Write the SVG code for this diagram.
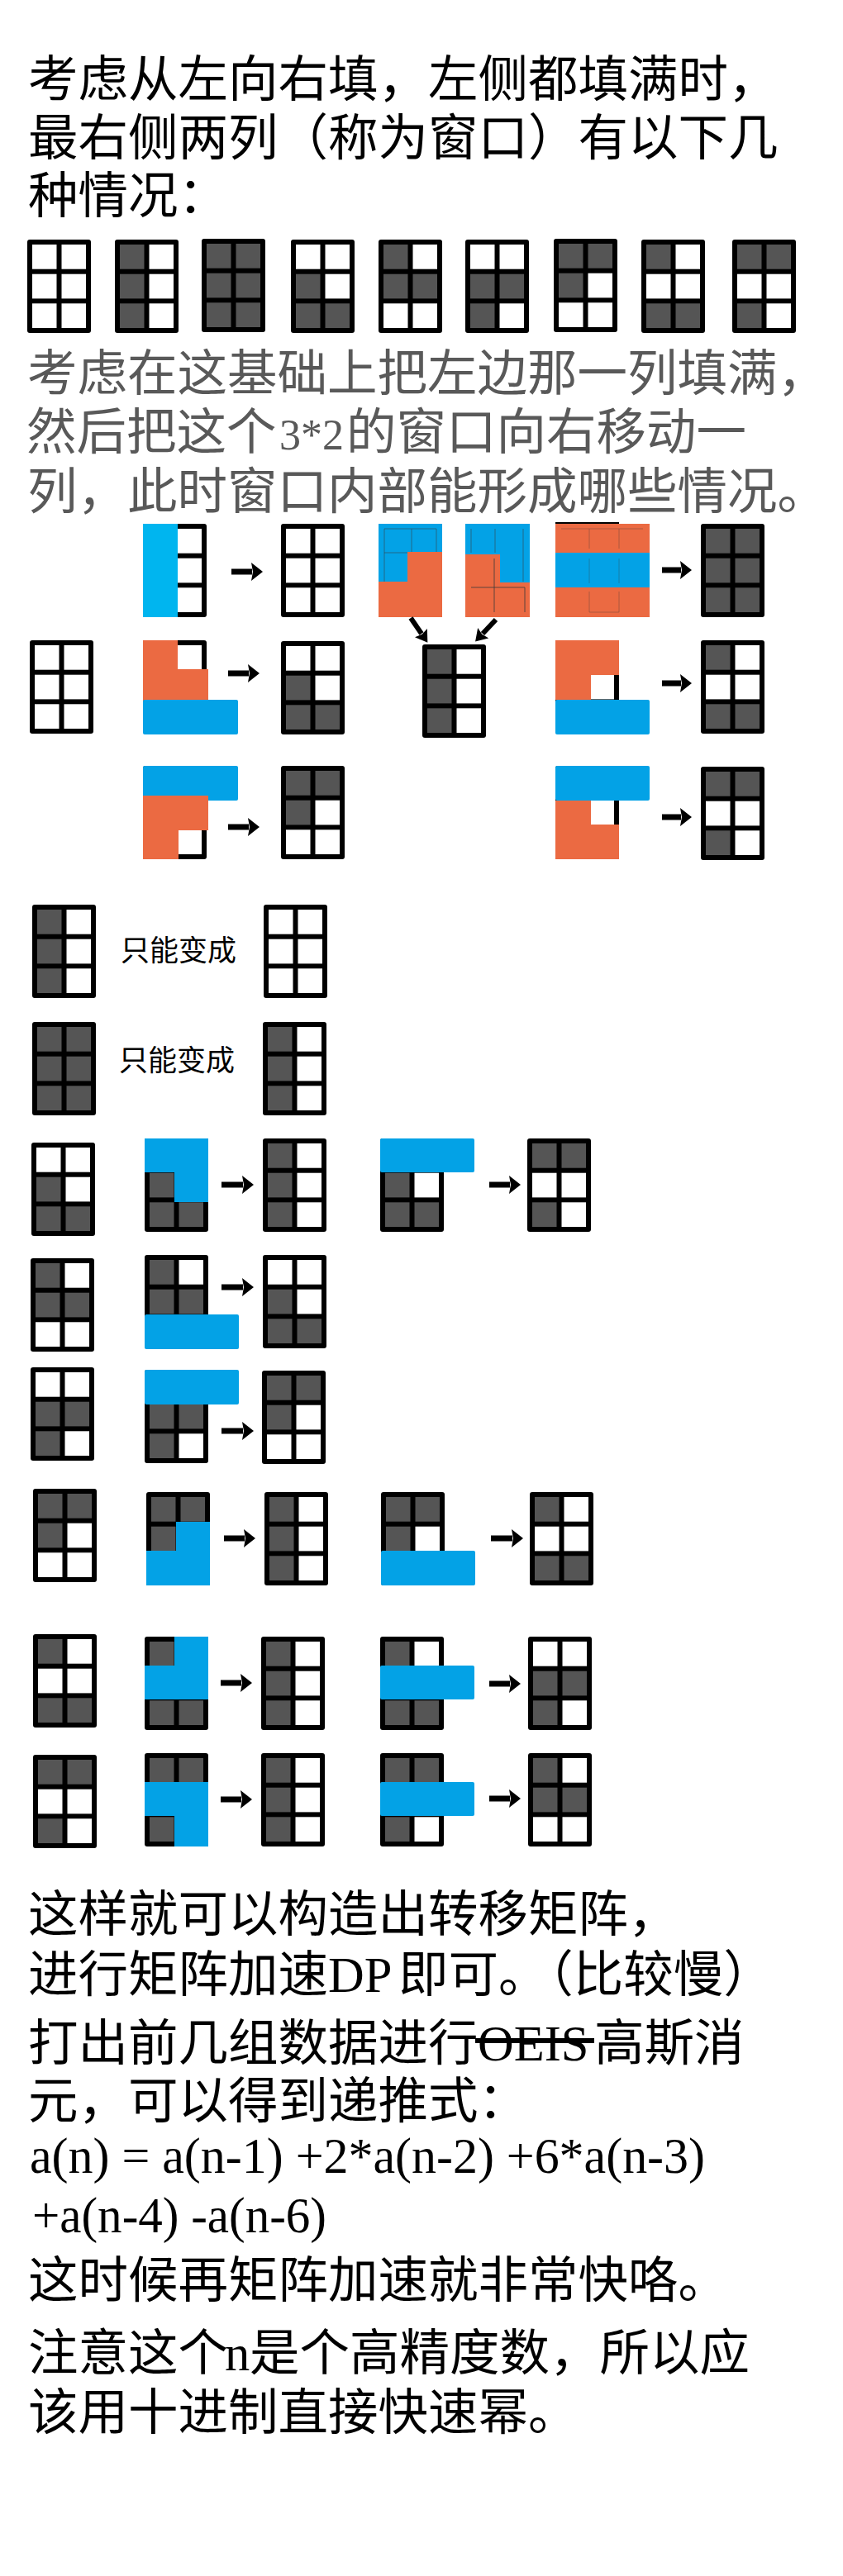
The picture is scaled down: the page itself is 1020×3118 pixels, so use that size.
<svg xmlns="http://www.w3.org/2000/svg" xmlns:xlink="http://www.w3.org/1999/xlink" width="1020" height="3118" viewBox="0 0 1020 3118">
<style>
.fr{fill:#000}
.d{fill:#555}
.w{fill:#fff}
.bl{fill:#03a2e6}
.cy{fill:#00b5ef}
.or{fill:#eb6a42}
.fl{stroke:#3a3a3a;stroke-width:1;fill:none;opacity:.55}
.t{font-family:"Liberation Serif","Noto Sans CJK SC",serif;font-size:60.5px;fill:#000}
.g{fill:#595959}
.s{font-family:"Liberation Serif","Noto Sans CJK SC",serif;font-size:35px;fill:#000}
.arr{stroke:#000;stroke-width:7;fill:none;marker-end:url(#ah)}
.arr2{stroke:#000;stroke-width:6;fill:none;marker-end:url(#ah2)}
</style>
<defs>
<marker id="ah" markerUnits="userSpaceOnUse" markerWidth="15" markerHeight="22" refX="1" refY="11" orient="auto"><path d="M0,0 L14,11 L0,22 L2,11 Z" fill="#000"/></marker>
<marker id="ah2" markerUnits="userSpaceOnUse" markerWidth="15" markerHeight="18" refX="1" refY="9" orient="auto"><path d="M0,0 L14,9 L0,18 L2,9 Z" fill="#000"/></marker>
<g id="s0"><rect class="fr" width="77" height="113" rx="3"/><rect class="w" x="6" y="6" width="29.5" height="29.7"/><rect class="w" x="41.5" y="6" width="29.5" height="29.7"/><rect class="w" x="6" y="41.7" width="29.5" height="29.7"/><rect class="w" x="41.5" y="41.7" width="29.5" height="29.7"/><rect class="w" x="6" y="77.3" width="29.5" height="29.7"/><rect class="w" x="41.5" y="77.3" width="29.5" height="29.7"/></g>
<g id="s1"><rect class="fr" width="77" height="113" rx="3"/><rect class="d" x="6" y="6" width="29.5" height="29.7"/><rect class="w" x="41.5" y="6" width="29.5" height="29.7"/><rect class="d" x="6" y="41.7" width="29.5" height="29.7"/><rect class="w" x="41.5" y="41.7" width="29.5" height="29.7"/><rect class="d" x="6" y="77.3" width="29.5" height="29.7"/><rect class="w" x="41.5" y="77.3" width="29.5" height="29.7"/></g>
<g id="s2"><rect class="fr" width="77" height="113" rx="3"/><rect class="d" x="6" y="6" width="29.5" height="29.7"/><rect class="d" x="41.5" y="6" width="29.5" height="29.7"/><rect class="d" x="6" y="41.7" width="29.5" height="29.7"/><rect class="d" x="41.5" y="41.7" width="29.5" height="29.7"/><rect class="d" x="6" y="77.3" width="29.5" height="29.7"/><rect class="d" x="41.5" y="77.3" width="29.5" height="29.7"/></g>
<g id="s3"><rect class="fr" width="77" height="113" rx="3"/><rect class="w" x="6" y="6" width="29.5" height="29.7"/><rect class="w" x="41.5" y="6" width="29.5" height="29.7"/><rect class="d" x="6" y="41.7" width="29.5" height="29.7"/><rect class="w" x="41.5" y="41.7" width="29.5" height="29.7"/><rect class="d" x="6" y="77.3" width="29.5" height="29.7"/><rect class="d" x="41.5" y="77.3" width="29.5" height="29.7"/></g>
<g id="s4"><rect class="fr" width="77" height="113" rx="3"/><rect class="d" x="6" y="6" width="29.5" height="29.7"/><rect class="w" x="41.5" y="6" width="29.5" height="29.7"/><rect class="d" x="6" y="41.7" width="29.5" height="29.7"/><rect class="d" x="41.5" y="41.7" width="29.5" height="29.7"/><rect class="w" x="6" y="77.3" width="29.5" height="29.7"/><rect class="w" x="41.5" y="77.3" width="29.5" height="29.7"/></g>
<g id="s5"><rect class="fr" width="77" height="113" rx="3"/><rect class="w" x="6" y="6" width="29.5" height="29.7"/><rect class="w" x="41.5" y="6" width="29.5" height="29.7"/><rect class="d" x="6" y="41.7" width="29.5" height="29.7"/><rect class="d" x="41.5" y="41.7" width="29.5" height="29.7"/><rect class="d" x="6" y="77.3" width="29.5" height="29.7"/><rect class="w" x="41.5" y="77.3" width="29.5" height="29.7"/></g>
<g id="s6"><rect class="fr" width="77" height="113" rx="3"/><rect class="d" x="6" y="6" width="29.5" height="29.7"/><rect class="d" x="41.5" y="6" width="29.5" height="29.7"/><rect class="d" x="6" y="41.7" width="29.5" height="29.7"/><rect class="w" x="41.5" y="41.7" width="29.5" height="29.7"/><rect class="w" x="6" y="77.3" width="29.5" height="29.7"/><rect class="w" x="41.5" y="77.3" width="29.5" height="29.7"/></g>
<g id="s7"><rect class="fr" width="77" height="113" rx="3"/><rect class="d" x="6" y="6" width="29.5" height="29.7"/><rect class="w" x="41.5" y="6" width="29.5" height="29.7"/><rect class="w" x="6" y="41.7" width="29.5" height="29.7"/><rect class="w" x="41.5" y="41.7" width="29.5" height="29.7"/><rect class="d" x="6" y="77.3" width="29.5" height="29.7"/><rect class="d" x="41.5" y="77.3" width="29.5" height="29.7"/></g>
<g id="s8"><rect class="fr" width="77" height="113" rx="3"/><rect class="d" x="6" y="6" width="29.5" height="29.7"/><rect class="d" x="41.5" y="6" width="29.5" height="29.7"/><rect class="w" x="6" y="41.7" width="29.5" height="29.7"/><rect class="w" x="41.5" y="41.7" width="29.5" height="29.7"/><rect class="d" x="6" y="77.3" width="29.5" height="29.7"/><rect class="w" x="41.5" y="77.3" width="29.5" height="29.7"/></g>
</defs>
<rect width="1020" height="3118" fill="#fff"/>

<!-- Text block 1 -->
<g id="text1" class="t">
<text x="34" y="117">考虑从左向右填，左侧都填满时，</text>
<text x="34" y="188">最右侧两列（称为窗口）有以下几</text>
<text x="34" y="258">种情况：</text>
</g>

<!-- Row of 9 states -->
<g id="states">
<g id="st0" transform="translate(33,290)"><use href="#s0"/></g>
<g id="st1" transform="translate(139,290)"><use href="#s1"/></g>
<g id="st2" transform="translate(244,289)"><use href="#s2"/></g>
<g id="st3" transform="translate(352,290)"><use href="#s3"/></g>
<g id="st4" transform="translate(458,290)"><use href="#s4"/></g>
<g id="st5" transform="translate(563,290)"><use href="#s5"/></g>
<g id="st6" transform="translate(670,289)"><use href="#s6"/></g>
<g id="st7" transform="translate(776,290)"><use href="#s7"/></g>
<g id="st8" transform="translate(886,290)"><use href="#s8"/></g>
</g>

<!-- Text block 2 -->
<g id="text2" class="t g">
<text x="33" y="473">考虑在这基础上把左边那一列填满，</text>
<text x="32" y="544">然后把这个</text>
<text x="338" y="544" style="font-size:52px">3*2</text>
<text x="419" y="544">的窗口向右移动一</text>
<text x="33" y="616">列，此时窗口内部能形成哪些情况。</text>
</g>

<!-- Section A-C: from empty window -->
<g id="a1" transform="translate(173,634)"><use href="#s0"/><rect class="cy" x="0" y="0" width="42" height="113"/></g>
<g id="a1r" transform="translate(340,634)"><use href="#s0"/></g>
<g id="a2" transform="translate(458,634)"><rect class="bl" width="77" height="113"/><path class="fl" d="M7,6 H70 V34 M40,6 V34 M7,6 V70 M7,35 H35"/><path class="or" d="M35,34 H77 V113 H0 V70 H35 Z"/></g>
<g id="a3" transform="translate(563,634)"><rect class="bl" width="78" height="113"/><path class="fl" d="M7,6 V35 M36,6 V35 M70,6 V70"/><path class="or" d="M0,37 H42 V71 H78 V113 H0 Z"/><path class="fl" d="M35,42 V107 M7,77 H72 M72,77 V107" style="opacity:.8"/></g>
<g id="a4" transform="translate(672,634)"><rect class="fr" x="0" y="-2" width="77" height="4"/><rect class="or" x="0" y="0" width="114" height="35"/><rect class="bl" x="0" y="35" width="114" height="42"/><rect class="or" x="0" y="77" width="114" height="36"/><path class="fl" d="M7,6 H106 M41,6 V30 M77,6 V30 M41,42 V72 M77,42 V72 M41,82 V107 M77,82 V107 M41,107 H77" style="opacity:.35"/></g>
<g id="a4r" transform="translate(848,634)"><use href="#s2"/></g>

<g id="b0" transform="translate(36,775)"><use href="#s0"/></g>
<g id="b1" transform="translate(173,775)"><use href="#s0"/><path class="or" d="M0,0 H42 V35 H79 V78 H0 Z"/><rect class="bl" x="0" y="72" width="115" height="42" rx="2"/></g>
<g id="b1r" transform="translate(340,776)"><use href="#s3"/></g>
<g id="bm" transform="translate(511,780)"><use href="#s1"/></g>
<g id="b2" transform="translate(672,775)"><use href="#s0"/><path class="or" d="M0,0 H77 V42 H43 V72 H0 Z"/><rect class="bl" x="0" y="72" width="114" height="42" rx="2"/></g>
<g id="b2r" transform="translate(848,775)"><use href="#s7"/></g>

<g id="c1" transform="translate(173,927)"><use href="#s0"/><rect class="bl" x="0" y="0" width="115" height="42" rx="2"/><path class="or" d="M0,36 H79 V78 H43 V113 H0 Z"/></g>
<g id="c1r" transform="translate(340,927)"><use href="#s6"/></g>
<g id="c2" transform="translate(672,927)"><use href="#s0"/><rect class="bl" x="0" y="0" width="114" height="42" rx="2"/><path class="or" d="M0,42 H43 V71 H77 V113 H0 Z"/></g>
<g id="c2r" transform="translate(848,928)"><use href="#s8"/></g>

<!-- Section D -->
<g id="d1" transform="translate(39,1095)"><use href="#s1"/></g>
<text class="s" x="146" y="1163">只能变成</text>
<g id="d1r" transform="translate(319,1095)"><use href="#s0"/></g>
<g id="d2" transform="translate(39,1237)"><use href="#s2"/></g>
<text class="s" x="144" y="1296">只能变成</text>
<g id="d2r" transform="translate(318,1237)"><use href="#s1"/></g>

<!-- Section E -->
<g id="e1" transform="translate(38,1383)"><use href="#s3"/></g>
<g id="e1a" transform="translate(175,1378)"><use href="#s3"/><path class="bl" d="M0,0 H77 V77 H36 V41 H0 Z"/></g>
<g id="e1ar" transform="translate(318,1378)"><use href="#s1"/></g>
<g id="e1b" transform="translate(460,1378)"><use href="#s3"/><rect class="bl" x="0" y="0" width="114" height="41" rx="2"/></g>
<g id="e1br" transform="translate(638,1378)"><use href="#s8"/></g>

<g id="e2" transform="translate(37,1523)"><use href="#s4"/></g>
<g id="e2a" transform="translate(175,1519)"><use href="#s4"/><rect class="bl" x="0" y="72" width="114" height="42" rx="2"/></g>
<g id="e2ar" transform="translate(318,1519)"><use href="#s3"/></g>

<g id="e3" transform="translate(37,1655)"><use href="#s5"/></g>
<g id="e3a" transform="translate(175,1658)"><use href="#s5"/><rect class="bl" x="0" y="0" width="114" height="42" rx="2"/></g>
<g id="e3ar" transform="translate(317,1659)"><use href="#s6"/></g>

<g id="e4" transform="translate(40,1802)"><use href="#s6"/></g>
<g id="e4a" transform="translate(177,1806)"><use href="#s6"/><path class="bl" d="M36,36 H77 V113 H0 V71 H36 Z"/></g>
<g id="e4ar" transform="translate(320,1806)"><use href="#s1"/></g>
<g id="e4b" transform="translate(461,1806)"><use href="#s6"/><rect class="bl" x="0" y="71" width="114" height="42" rx="2"/></g>
<g id="e4br" transform="translate(641,1806)"><use href="#s7"/></g>

<g id="e5" transform="translate(40,1978)"><use href="#s7"/></g>
<g id="e5a" transform="translate(175,1981)"><use href="#s7"/><path class="bl" d="M36,0 H77 V76 H0 V35 H36 Z"/></g>
<g id="e5ar" transform="translate(316,1981)"><use href="#s1"/></g>
<g id="e5b" transform="translate(460,1981)"><use href="#s7"/><rect class="bl" x="0" y="35" width="114" height="41" rx="2"/></g>
<g id="e5br" transform="translate(639,1981)"><use href="#s5"/></g>

<g id="e6" transform="translate(40,2124)"><use href="#s8"/></g>
<g id="e6a" transform="translate(175,2122)"><use href="#s8"/><path class="bl" d="M0,35 H77 V113 H36 V76 H0 Z"/></g>
<g id="e6ar" transform="translate(316,2122)"><use href="#s1"/></g>
<g id="e6b" transform="translate(460,2122)"><use href="#s8"/><rect class="bl" x="0" y="35" width="114" height="41" rx="2"/></g>
<g id="e6br" transform="translate(639,2122)"><use href="#s4"/></g>

<!-- Connectors -->
<g id="connectors">
<path class="arr" d="M280,692 H305"/>
<path class="arr" d="M801,690 H824"/>
<path class="arr2" d="M497,748 L510,767"/>
<path class="arr2" d="M600,750 L584,767"/>
<path class="arr" d="M276,815 H301"/>
<path class="arr" d="M801,827 H824"/>
<path class="arr" d="M276,1001 H301"/>
<path class="arr" d="M801,989 H824"/>
<path class="arr" d="M268,1434 H294"/>
<path class="arr" d="M592,1434 H617"/>
<path class="arr" d="M268,1558 H294"/>
<path class="arr" d="M268,1732 H294"/>
<path class="arr" d="M271,1862 H296"/>
<path class="arr" d="M594,1862 H620"/>
<path class="arr" d="M267,2037 H292"/>
<path class="arr" d="M592,2038 H617"/>
<path class="arr" d="M267,2178 H292"/>
<path class="arr" d="M592,2177 H617"/>
</g>

<!-- Bottom text -->
<g id="text3" class="t">
<text x="34" y="2338">这样就可以构造出转移矩阵，</text>
<text x="34" y="2411">进行矩阵加速</text>
<text x="397" y="2411">DP</text>
<text x="482" y="2411">即可。（比较慢）</text>
<text x="34" y="2494">打出前几组数据进行</text>
<text x="578" y="2494">OEIS</text>
<text x="719" y="2494">高斯消</text>
<rect x="575" y="2467" width="144" height="6" fill="#000"/>
<text x="34" y="2564">元，可以得到递推式：</text>
<text x="36" y="2630" textLength="817" lengthAdjust="spacingAndGlyphs">a(n) = a(n-1) +2*a(n-2) +6*a(n-3)</text>
<text x="39" y="2702" textLength="356" lengthAdjust="spacingAndGlyphs">+a(n-4) -a(n-6)</text>
<text x="34" y="2781">这时候再矩阵加速就非常快咯。</text>
<text x="34" y="2869">注意这个</text>
<text x="272" y="2869">n</text>
<text x="302" y="2869">是个高精度数，所以应</text>
<text x="34" y="2941">该用十进制直接快速幂。</text>
</g>
</svg>
